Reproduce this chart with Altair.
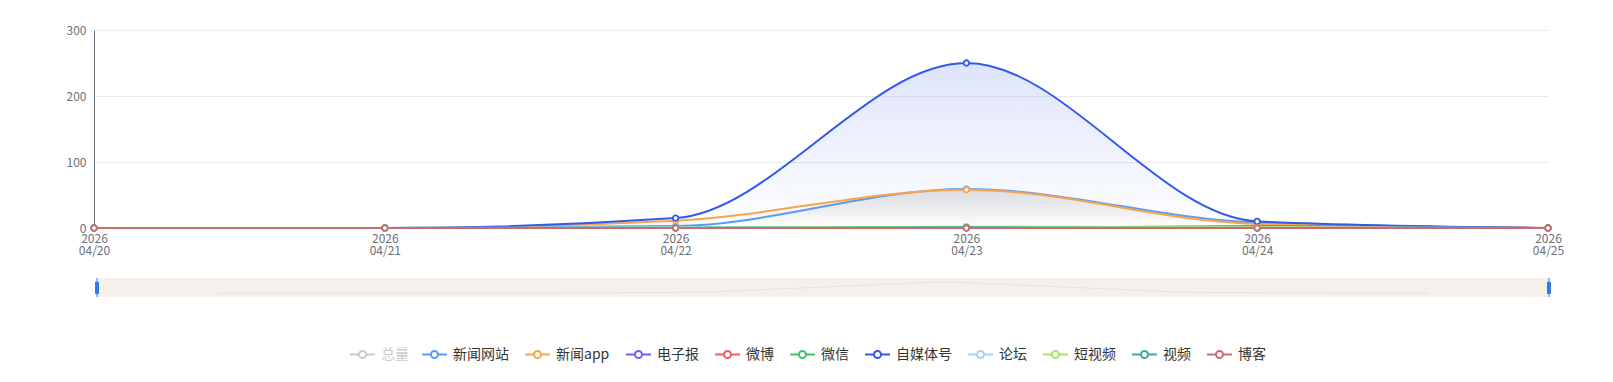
import altair as alt
import pandas as pd

dates = ["2026/04/20", "2026/04/21", "2026/04/22", "2026/04/23", "2026/04/24", "2026/04/25"]
series_names = ["总量", "新闻网站", "新闻app", "电子报", "微博", "微信", "自媒体号", "论坛", "短视频", "视频", "博客"]
series_colors = ["#cccccc", "#5b9bf6", "#f7a54c", "#7a5cf5", "#f55b5b", "#3ec46a",
                 "#3359e8", "#a6d3f8", "#a8e36e", "#3ea8a6", "#cd6b6b"]

total = [0, 0, 31, 372, 29, 0]
news_site = [0, 0, 3, 59, 8, 0]
news_app = [0, 0, 11, 58, 6, 0]
epaper = [0, 0, 0, 0, 0, 0]
weibo = [0, 0, 0, 0, 3, 0]
wechat = [0, 0, 1, 1, 0, 0]
self_media = [0, 0, 15, 250, 10, 0]
forum = [0, 0, 1, 1, 1, 0]
short_video = [0, 0, 0, 2, 1, 0]
video = [0, 0, 0, 1, 0, 0]
blog = [0, 0, 0, 0, 0, 0]

series_values = [news_site, news_app, epaper, weibo, wechat, self_media,
                 forum, short_video, video, blog]

rows = []
for name, vals in zip(series_names[1:], series_values):
    for d, v in zip(dates, vals):
        rows.append({"date": d, "series": name, "value": v})
df = pd.DataFrame(rows)
df_total = pd.DataFrame({"date": dates, "series": "总量", "value": total})

FONT = "Noto Sans CJK SC"
AXIS_COLOR = "#6e7079"
W = 1454
H = 198

legend_icon = "M-1,0L-0.28,0M0.28,0L1,0M0.28,0A0.28,0.28,0,1,1,-0.28,0A0.28,0.28,0,1,1,0.28,0"

x_enc = alt.X("date:N", sort=dates, scale=alt.Scale(type="point", padding=0),
              axis=alt.Axis(title=None, labelAngle=0, ticks=False, domainColor=AXIS_COLOR,
                            labelExpr="[slice(datum.label,0,4), slice(datum.label,5)]",
                            labelColor=AXIS_COLOR, labelFontSize=12, labelFont=FONT,
                            labelLineHeight=12.5, labelPadding=5, labelBaseline="top",
                            grid=False))
y_enc = alt.Y("value:Q", stack=None, scale=alt.Scale(domain=[0, 300], nice=False),
              axis=alt.Axis(title=None, values=[0, 100, 200, 300], ticks=False,
                            domainColor=AXIS_COLOR, labelColor=AXIS_COLOR, labelFontSize=12,
                            labelFont=FONT, labelPadding=8, gridColor="#ebebeb"))

color_scale = alt.Scale(domain=series_names, range=series_colors)

base = alt.Chart(df)

area_blue = base.transform_filter(alt.datum.series == "自媒体号").mark_area(
    interpolate="monotone",
    color=alt.Gradient(gradient="linear", x1=0, y1=0, x2=0, y2=1,
                       stops=[alt.GradientStop(color="rgba(58,94,232,0.17)", offset=0),
                              alt.GradientStop(color="rgba(58,94,232,0.0)", offset=1)]),
).encode(x=x_enc, y=y_enc)

area_gray = base.transform_filter(
    (alt.datum.series == "新闻网站") | (alt.datum.series == "新闻app")
).mark_area(
    interpolate="monotone",
    color=alt.Gradient(gradient="linear", x1=0, y1=0, x2=0, y2=1,
                       stops=[alt.GradientStop(color="rgba(0,0,0,0.06)", offset=0),
                              alt.GradientStop(color="rgba(0,0,0,0.0)", offset=1)]),
).encode(x=x_enc, y=y_enc, detail="series:N")

lines = base.mark_line(interpolate="monotone", strokeWidth=2).encode(
    x=x_enc, y=y_enc,
    color=alt.Color("series:N", scale=color_scale,
                    legend=alt.Legend(title=None, orient="none", legendX=327, legendY=311,
                                      direction="horizontal", values=series_names[1:],
                                      symbolType=legend_icon, symbolSize=625,
                                      symbolStrokeWidth=2, symbolFillColor="white",
                                      labelFontSize=14, labelColor="#333333", labelFont=FONT,
                                      labelOffset=5, columnPadding=12, padding=0)),
)

points = base.mark_point(filled=False, fill="white", fillOpacity=1, size=30,
                         strokeWidth=1.8, opacity=1).encode(
    x=x_enc, y=y_enc,
    color=alt.Color("series:N", scale=color_scale, legend=None),
)

main = alt.layer(area_blue, area_gray, lines, points).properties(width=W, height=H)

# data zoom slider
SW = 1455
SH = 19
one = pd.DataFrame({"k": [0]})
slider_bg = alt.Chart(one).mark_rect(color="#f5f0ec").encode(
    x=alt.value(3), x2=alt.value(SW), y=alt.value(0), y2=alt.value(SH))
shadow = alt.Chart(df_total).mark_line(strokeWidth=1, strokeOpacity=0.4).encode(
    x=alt.X("date:N", sort=dates, scale=alt.Scale(type="point", range=[3, SW]), axis=None),
    y=alt.Y("value:Q", scale=alt.Scale(domain=[-119, 491], nice=False), axis=None),
    stroke=alt.Stroke("series:N", scale=alt.Scale(domain=["总量"], range=["#cccccc"]),
                      legend=alt.Legend(title=None, orient="none", legendX=255, legendY=311,
                                        symbolType=legend_icon, symbolSize=625,
                                        symbolStrokeWidth=2, symbolFillColor="white",
                                        symbolOpacity=1,
                                        labelFontSize=14, labelColor="#cccccc", labelFont=FONT,
                                        labelOffset=5, padding=0)),
)
hl_line = alt.Chart(one).mark_rule(color="#2f7de1", strokeWidth=1).encode(
    x=alt.value(3), y=alt.value(0), y2=alt.value(SH))
hr_line = alt.Chart(one).mark_rule(color="#2f7de1", strokeWidth=1).encode(
    x=alt.value(SW), y=alt.value(0), y2=alt.value(SH))
hl = alt.Chart(one).mark_rect(color="#2f7de1", cornerRadius=1).encode(
    x=alt.value(1), x2=alt.value(5), y=alt.value(3.7), y2=alt.value(16))
hr = alt.Chart(one).mark_rect(color="#2f7de1", cornerRadius=1).encode(
    x=alt.value(SW - 2), x2=alt.value(SW + 2), y=alt.value(3.7), y2=alt.value(16))

slider = alt.layer(slider_bg, shadow, hl_line, hr_line, hl, hr).properties(width=SW, height=SH)

chart = alt.vconcat(main, slider, spacing=50, bounds="flush").properties(
    padding={"left": 58, "top": 16, "right": 5, "bottom": 5}
).configure(font=FONT, view=alt.ViewConfig(stroke=None))

chart.save("out.html", embed_options={"renderer": "svg", "actions": False})
